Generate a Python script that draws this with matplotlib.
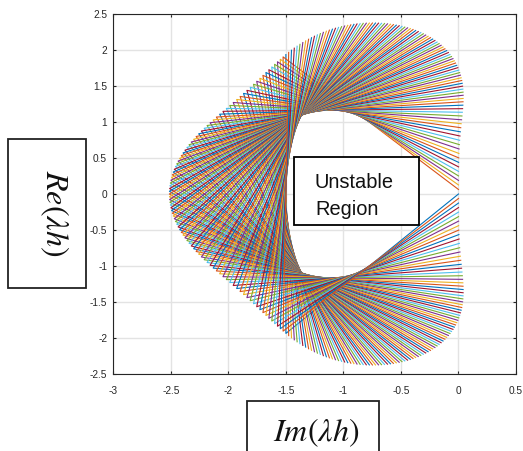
import matplotlib
matplotlib.use("Agg")
import matplotlib.pyplot as plt
import matplotlib.patches as patches
import numpy as np

plt.rcParams.update({
    'font.family': ['Liberation Sans', 'DejaVu Sans'],
    'mathtext.fontset': 'stix',
})

# stability polynomial R(z) = z^3/6 + z^2/2 + z + 1 (third-order Runge-Kutta)
poly_coeffs = [1/6, 1/2, 1, 1]
phase_step_deg = 3.6        # one line per phase angle of R(z) = exp(i*theta)
phase_stop_deg = 360

x_ticks = [-3, -2.5, -2, -1.5, -1, -0.5, 0, 0.5]
y_ticks = [-2.5, -2, -1.5, -1, -0.5, 0, 0.5, 1, 1.5, 2, 2.5]
x_limits = (-3, 0.5)
y_limits = (-2.5, 2.5)

note_lines = ["Unstable", "Region"]
note_box = (-1.427, -0.43, 1.083, 0.94)   # x, y, w, h in data units
x_label = r'$Im(\lambda h)$'
y_label = r'$Re(\lambda h)$'

# MATLAB default colour order
COLORS = ['#0072BD', '#D95319', '#EDB120', '#7E2F8E', '#77AC30', '#4DBEEE', '#A2142F']

W, H = 523, 451
fig = plt.figure(figsize=(W / 100, H / 100), dpi=100)
ax = fig.add_axes([113.3 / W, 1 - 374 / H, 402.7 / W, 360 / H])

thetas = np.deg2rad(np.arange(0, phase_stop_deg - 1e-9, phase_step_deg))
for i, th in enumerate(thetas):
    c = list(poly_coeffs)
    c[-1] = poly_coeffs[-1] - np.exp(1j * th)
    r = np.roots(c)
    # root on the left arc goes in the middle, so each line is two chords
    k = np.argmin(r.real)
    others = [r[j] for j in range(3) if j != k]
    others.sort(key=lambda z: -z.imag)
    pts = np.array([others[0], r[k], others[1]])
    ax.plot(pts.real, pts.imag, color=COLORS[i % 7], lw=0.8, zorder=2)

# note box with clipped text
rect = patches.Rectangle(note_box[:2], note_box[2], note_box[3], facecolor='white',
                         edgecolor='black', lw=1.3, zorder=5)
ax.add_patch(rect)
clip = patches.Rectangle((note_box[0], -0.27), note_box[2], 0.78,
                         transform=ax.transData, visible=False)
ax.add_patch(clip)
t1 = ax.text(-1.248, 0.087, note_lines[0], fontsize=14.4, color='#111111',
             va='baseline', ha='left', zorder=6)
t2 = ax.text(-1.248, -0.293, note_lines[1], fontsize=14.4, color='#111111',
             va='baseline', ha='left', zorder=6)
t2.set_clip_path(clip)

ax.set_xlim(*x_limits)
ax.set_ylim(*y_limits)
ax.set_xticks(x_ticks)
ax.set_yticks(y_ticks)
ax.set_xticklabels([f'{v:g}' for v in x_ticks])
ax.set_yticklabels([f'{v:g}' for v in y_ticks])
ax.grid(True, color='#e3e3e3', lw=1.0, zorder=0)
ax.set_axisbelow(True)
ax.tick_params(direction='in', length=2.5, width=0.8, colors='#262626',
               labelsize=7.3, top=True, right=True)
ax.tick_params(axis='x', pad=8.3)
ax.tick_params(axis='y', pad=4.5)
for s in ax.spines.values():
    s.set_color('#262626')
    s.set_linewidth(0.8)

# axis label boxes drawn on the figure
xbox = patches.Rectangle((246.7 / W, -0.02), 132.3 / W, 0.02 + (H - 401) / H,
                         transform=fig.transFigure, facecolor='white',
                         edgecolor='#222222', lw=1.3, clip_on=False)
ybox = patches.Rectangle((8 / W, 1 - 287.7 / H), 78 / W, 148.4 / H,
                         transform=fig.transFigure, facecolor='white',
                         edgecolor='#222222', lw=1.3, clip_on=False)
fig.add_artist(xbox)
fig.add_artist(ybox)
fig.text(316.7 / W, 1 - 441.7 / H, x_label, fontsize=23, ha='center',
         va='baseline', color='#111111')
fig.text(54 / W, 1 - 213.5 / H, y_label, fontsize=23, ha='center',
         va='center', rotation=270, color='#111111')

fig.savefig('out.png', dpi=100)
